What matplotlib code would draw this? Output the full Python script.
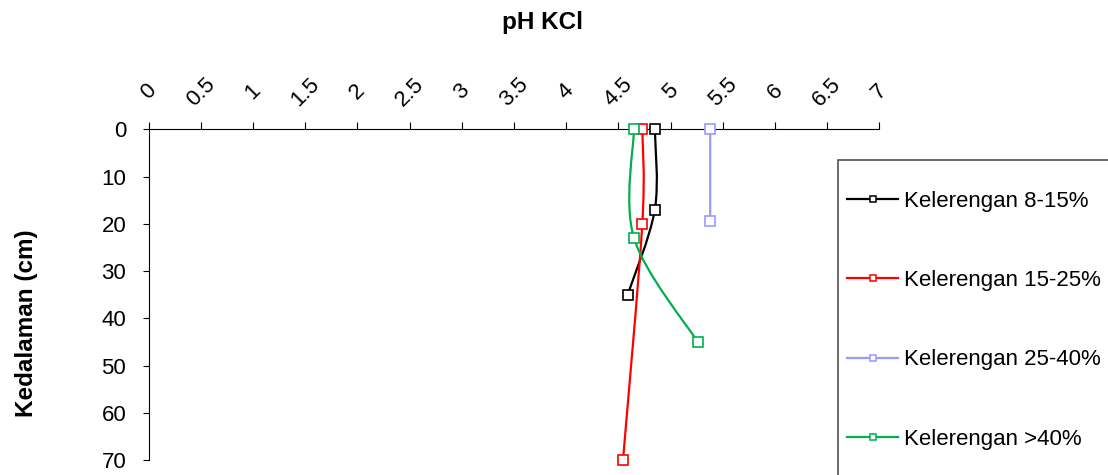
import matplotlib.pyplot as plt
from matplotlib.path import Path
from matplotlib.patches import PathPatch, Rectangle
from matplotlib.lines import Line2D

# data (pH KCl vs depth)
series_names = ['Kelerengan 8-15%', 'Kelerengan 15-25%', 'Kelerengan 25-40%', 'Kelerengan >40%']
ph_8_15 = [4.85, 4.85, 4.59]
depth_8_15 = [0, 17, 35]
ph_15_25 = [4.73, 4.73, 4.545]
depth_15_25 = [0, 20, 70]
ph_25_40 = [5.38, 5.38]
depth_25_40 = [0, 19.5]
ph_40 = [4.65, 4.65, 5.26]
depth_40 = [0, 23, 45]

x_ticks = [0, 0.5, 1, 1.5, 2, 2.5, 3, 3.5, 4, 4.5, 5, 5.5, 6, 6.5, 7]
x_ticklabels = ['0', '0.5', '1', '1.5', '2', '2.5', '3', '3.5', '4', '4.5', '5', '5.5', '6', '6.5', '7']
y_ticks = [0, 10, 20, 30, 40, 50, 60, 70]

colors = ['#000000', '#FF0000', '#9999FF', '#00B050']

plt.rcParams['font.family'] = ['Liberation Sans', 'DejaVu Sans']


def smooth_path(xs, ys, t=1.0 / 6):
    # Excel-like smoothed line: cubic bezier through the points
    pts = list(zip(xs, ys))
    n = len(pts)
    verts = [pts[0]]
    codes = [Path.MOVETO]
    for i in range(n - 1):
        p0 = pts[i - 1] if i > 0 else pts[i]
        p1 = pts[i]
        p2 = pts[i + 1]
        p3 = pts[i + 2] if i + 2 < n else pts[i + 1]
        c1 = (p1[0] + (p2[0] - p0[0]) * t, p1[1] + (p2[1] - p0[1]) * t)
        c2 = (p2[0] - (p3[0] - p1[0]) * t, p2[1] - (p3[1] - p1[1]) * t)
        verts += [c1, c2, p2]
        codes += [Path.CURVE4] * 3
    return Path(verts, codes)


fig = plt.figure(figsize=(11.08, 4.75), dpi=100)
ax = fig.add_axes([148.5 / 1108, 1 - 460 / 475, 730.8 / 1108, (460 - 129.3) / 475])

data = [(ph_8_15, depth_8_15), (ph_15_25, depth_15_25), (ph_25_40, depth_25_40), (ph_40, depth_40)]
handles = []
for (xs, ys), c, name in zip(data, colors, series_names):
    ax.add_patch(PathPatch(smooth_path(xs, ys), fill=False, edgecolor=c, lw=1.6, clip_on=False))
    ax.plot(xs, ys, linestyle='none', marker='s', markersize=6.5, markerfacecolor='white',
            markeredgecolor=c, markeredgewidth=1.2, clip_on=False, zorder=3)
    handles.append(Line2D([], [], color=c, lw=1.6, marker='s', markersize=5,
                          markerfacecolor='white', markeredgecolor=c, markeredgewidth=1.1))

ax.set_xlim(0, 7)
ax.set_ylim(70, 0)
ax.xaxis.tick_top()
ax.set_xticks(x_ticks)
ax.set_xticklabels(x_ticklabels, rotation=45, ha='center', va='center', fontsize=16)
ax.set_yticks(y_ticks)
ax.tick_params(axis='x', direction='out', length=5, width=0.8, pad=22)
ax.tick_params(axis='y', direction='out', length=4, width=0.8, pad=12, labelsize=16)
for s in ['right', 'bottom']:
    ax.spines[s].set_visible(False)
for s in ['top', 'left']:
    ax.spines[s].set_linewidth(0.8)

fig.text(542 / 1108, 1 - 22 / 475, 'pH KCl', ha='center', va='center', fontsize=17.5, fontweight='bold')
fig.text(27 / 1108, 1 - 323 / 475, 'Kedalaman (cm)', ha='center', va='center', rotation=90,
         fontsize=17.5, fontweight='bold')

# legend box runs off the figure edge
fig.patches.append(Rectangle((837.5 / 1108, -0.2), 0.4, 0.2 + 1 - 159.5 / 475,
                             transform=fig.transFigure, fill=False, edgecolor='#505050', lw=1.2))
fig.legend(handles, series_names, loc='upper left', bbox_to_anchor=(847 / 1108, 1 - 191 / 475),
           frameon=False, fontsize=16, handlelength=2.3, handletextpad=0.25, labelspacing=2.62,
           borderpad=0, borderaxespad=0)

fig.savefig('out.png', dpi=100)
